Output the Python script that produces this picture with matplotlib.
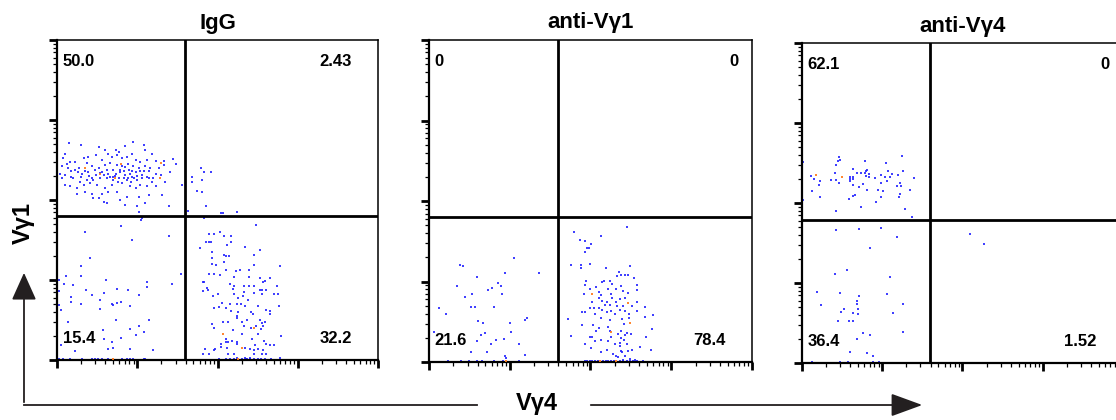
import numpy as np
import matplotlib
matplotlib.use("Agg")
import matplotlib.pyplot as plt
from matplotlib.lines import Line2D
from matplotlib.patches import FancyArrowPatch

plt.rcParams['font.family'] = ['Liberation Sans', 'DejaVu Sans']

# flow data, axes in decades (0-4), x = Vγ4, y = Vγ1
panel_titles = ["IgG", "anti-Vγ1", "anti-Vγ4"]
gates = [(1.59, 1.80), (1.60, 1.80), (1.59, 1.79)]
percents = [["50.0", "2.43", "15.4", "32.2"],
            ["0", "0", "21.6", "78.4"],
            ["62.1", "0", "36.4", "1.52"]]

igg_ul = [(0.15, 2.71), (0.30, 2.69), (0.52, 2.66), (0.95, 2.73), (1.08, 2.69), (0.85, 2.67),
          (0.73, 2.63), (0.60, 2.63), (0.64, 2.58), (0.77, 2.60), (1.10, 2.63), (1.18, 2.58),
          (0.93, 2.58), (0.10, 2.58), (0.08, 2.52), (0.16, 2.48), (0.23, 2.48), (0.33, 2.52),
          (0.39, 2.54), (0.48, 2.56), (0.56, 2.50), (0.68, 2.54), (0.75, 2.56), (0.81, 2.52),
          (0.87, 2.54), (0.98, 2.50), (1.04, 2.48), (1.12, 2.50), (1.23, 2.49), (1.33, 2.49),
          (1.44, 2.51), (0.06, 2.42), (0.14, 2.40), (0.27, 2.40), (0.37, 2.46), (0.43, 2.42),
          (0.52, 2.40), (0.60, 2.44), (0.66, 2.46), (0.75, 2.44), (0.81, 2.42), (0.89, 2.45),
          (0.95, 2.42), (1.02, 2.40), (1.10, 2.42), (1.16, 2.40), (1.27, 2.40), (1.33, 2.44),
          (1.48, 2.45), (0.04, 2.33), (0.10, 2.31), (0.18, 2.29), (0.31, 2.33), (0.39, 2.35),
          (0.48, 2.31), (0.56, 2.35), (0.64, 2.33), (0.73, 2.33), (0.79, 2.35), (0.85, 2.31),
          (0.91, 2.33), (0.98, 2.35), (1.06, 2.31), (1.12, 2.29), (1.23, 2.33), (1.29, 2.31),
          (1.41, 2.35), (0.06, 2.27), (0.20, 2.27), (0.29, 2.23), (0.37, 2.25), (0.45, 2.25),
          (0.54, 2.27), (0.62, 2.27), (0.70, 2.29), (0.77, 2.27), (0.83, 2.27), (0.87, 2.25),
          (0.93, 2.29), (1.00, 2.25), (1.06, 2.27), (1.14, 2.27), (1.18, 2.23), (1.35, 2.23),
          (1.56, 2.19), (0.10, 2.19), (0.16, 2.17), (0.25, 2.15), (0.33, 2.19), (0.41, 2.21),
          (0.50, 2.19), (0.60, 2.15), (0.68, 2.19), (0.81, 2.21), (0.91, 2.17), (0.98, 2.15),
          (1.04, 2.19), (1.12, 2.17), (1.23, 2.17), (1.31, 2.06), (0.25, 2.08), (0.35, 2.10),
          (0.43, 2.08), (0.56, 2.08), (0.64, 2.10), (0.75, 2.10), (0.87, 2.04), (1.02, 2.04),
          (1.14, 2.06), (0.45, 2.02), (0.52, 2.02), (0.58, 1.98), (0.79, 2.00), (0.85, 1.94),
          (1.00, 1.92), (1.10, 1.96), (1.39, 1.93), (0.62, 1.96), (1.02, 1.85),
          (0.70, 2.38), (0.72, 2.30), (0.78, 2.38), (0.83, 2.36), (0.88, 2.28), (0.90, 2.38),
          (0.94, 2.36), (0.96, 2.27), (1.00, 2.30), (1.03, 2.36), (0.66, 2.29), (0.62, 2.37),
          (0.58, 2.31), (0.53, 2.34), (0.47, 2.37), (0.44, 2.28), (0.40, 2.30), (0.35, 2.36),
          (0.30, 2.29), (0.26, 2.35), (0.22, 2.38), (0.85, 2.41), (0.92, 2.22), (0.76, 2.23),
          (0.70, 2.25), (1.08, 2.36), (1.15, 2.36), (1.20, 2.28), (0.12, 2.45), (0.18, 2.36)]
igg_ur = [(1.68, 2.29), (1.68, 2.22), (1.79, 2.40), (1.83, 2.35), (1.92, 2.35), (1.81, 2.25),
          (1.74, 2.11), (1.81, 2.10), (1.86, 1.92), (1.63, 1.86), (2.04, 1.84), (2.07, 1.84),
          (2.24, 1.85)]
igg_ll = [(1.05, 1.75), (0.80, 1.67), (0.35, 1.60), (0.93, 1.50), (1.40, 1.55), (0.41, 1.27),
          (0.30, 1.17), (0.11, 1.05), (0.30, 1.05), (0.03, 1.00), (0.09, 0.95), (0.20, 0.94),
          (0.61, 1.00), (1.54, 1.08), (1.43, 0.95), (1.12, 0.97), (1.12, 0.91), (0.03, 0.86),
          (0.36, 0.88), (0.43, 0.81), (0.58, 0.84), (0.75, 0.89), (0.89, 0.88), (1.02, 0.81),
          (0.18, 0.79), (0.18, 0.73), (0.53, 0.75), (0.03, 0.69), (0.30, 0.70), (0.68, 0.70),
          (0.70, 0.69), (0.75, 0.71), (0.80, 0.73), (0.91, 0.67), (0.05, 0.63), (0.53, 0.64),
          (0.14, 0.48), (0.74, 0.50), (1.15, 0.50), (1.02, 0.43), (0.91, 0.39), (0.57, 0.38),
          (1.08, 0.35), (0.99, 0.31), (0.80, 0.28), (0.59, 0.26), (0.69, 0.23), (0.05, 0.19),
          (0.70, 0.15), (0.63, 0.14), (0.91, 0.14), (1.20, 0.12), (0.23, 0.11), (1.06, 1.77),
          (0.03, 0.01), (0.07, 0.01), (0.16, 0.01), (0.31, 0.01), (0.43, 0.01), (0.47, 0.01),
          (0.51, 0.01), (0.56, 0.01), (0.63, 0.01), (0.81, 0.01), (0.87, 0.01), (0.91, 0.01),
          (0.95, 0.01), (1.08, 0.01), (1.10, 0.01)]
igg_lr = [(1.83, 1.77), (2.48, 1.69), (2.03, 1.60), (1.90, 1.58), (1.96, 1.58), (2.08, 1.55),
          (2.17, 1.55), (1.86, 1.47), (1.89, 1.47), (1.92, 1.47), (1.78, 1.40), (2.12, 1.44),
          (2.17, 1.47), (2.34, 1.41), (2.53, 1.38), (1.93, 1.35), (2.08, 1.31), (2.10, 1.30),
          (2.14, 1.30), (1.93, 1.27), (2.45, 1.31), (2.08, 1.22), (1.98, 1.19), (1.93, 1.20),
          (2.46, 1.19), (2.78, 1.17), (2.10, 1.13), (2.23, 1.11), (2.28, 1.13), (2.39, 1.13),
          (1.90, 1.08), (1.96, 1.07), (2.03, 1.06), (2.21, 1.04), (2.39, 1.04), (2.53, 1.03),
          (2.65, 1.03), (1.82, 0.98), (1.83, 0.97), (2.59, 0.99), (2.57, 0.97), (2.16, 0.95),
          (2.21, 0.92), (2.33, 0.93), (2.39, 0.92), (2.46, 0.93), (2.53, 0.88), (2.55, 0.88),
          (2.60, 0.88), (2.74, 0.92), (1.87, 0.90), (1.82, 0.86), (1.88, 0.87), (2.00, 0.83),
          (1.95, 0.80), (2.19, 0.89), (2.33, 0.85), (2.45, 0.84), (2.56, 0.82), (2.70, 0.83),
          (2.75, 0.83), (2.21, 0.82), (2.32, 0.80), (2.26, 0.78), (2.38, 0.75), (2.16, 0.70),
          (2.24, 0.70), (2.29, 0.70), (2.05, 0.71), (2.34, 0.68), (2.51, 0.67), (1.96, 0.65),
          (2.02, 0.66), (2.10, 0.65), (2.17, 0.61), (2.25, 0.60), (2.42, 0.60), (2.44, 0.58),
          (2.61, 0.63), (2.65, 0.61), (2.65, 0.58), (2.77, 0.67), (2.24, 0.55), (2.24, 0.53),
          (2.07, 0.48), (2.13, 0.48), (2.31, 0.48), (2.37, 0.50), (2.53, 0.50), (2.56, 0.46),
          (2.59, 0.48), (1.93, 0.45), (2.33, 0.42), (2.42, 0.40), (2.48, 0.42), (2.57, 0.43),
          (1.96, 0.40), (2.19, 0.38), (2.54, 0.39), (2.30, 0.33), (2.79, 0.30), (2.51, 0.33),
          (2.11, 0.26), (2.43, 0.26), (2.58, 0.24), (2.18, 0.24), (2.10, 0.22), (2.13, 0.22),
          (2.24, 0.22), (2.24, 0.20), (2.04, 0.20), (2.61, 0.20), (2.66, 0.19), (2.71, 0.19),
          (2.47, 0.19), (2.34, 0.15), (2.12, 0.15), (2.04, 0.16), (1.97, 0.14), (1.96, 0.13),
          (1.85, 0.14), (2.40, 0.14), (2.46, 0.13), (2.51, 0.14), (2.57, 0.13), (1.82, 0.08),
          (1.89, 0.07), (2.13, 0.08), (2.20, 0.07), (2.24, 0.03), (2.34, 0.03), (2.41, 0.03),
          (2.46, 0.08), (2.56, 0.08), (2.60, 0.07), (2.78, 0.03),
          (2.02, 0.01), (2.11, 0.01), (2.15, 0.01), (2.20, 0.01), (2.30, 0.01), (2.35, 0.01),
          (2.37, 0.01), (2.41, 0.01), (2.45, 0.01), (2.50, 0.01), (2.54, 0.01), (2.59, 0.01),
          (2.67, 0.01)]
igg_hi = [(0.35, 2.40), (0.53, 2.32), (0.80, 2.45), (1.30, 2.46), (1.28, 2.28), (0.72, 2.28),
          (2.07, 0.33), (2.30, 0.15), (2.25, 0.01), (2.46, 0.40), (0.70, 0.01)]

v1_ll = [(1.05, 1.29), (0.39, 1.20), (0.42, 1.19), (0.60, 1.06), (0.94, 1.10), (1.36, 1.10),
         (0.35, 0.95), (0.86, 0.98), (0.89, 0.95), (0.78, 0.92), (0.73, 0.89), (0.53, 0.84),
         (0.44, 0.81), (0.91, 0.85), (0.13, 0.67), (0.21, 0.60), (0.52, 0.68), (0.57, 0.68),
         (0.81, 0.68), (0.61, 0.51), (0.67, 0.49), (1.21, 0.55), (1.19, 0.52), (1.00, 0.48),
         (0.64, 0.34), (0.69, 0.36), (1.01, 0.37), (0.06, 0.37), (0.60, 0.26), (0.77, 0.22),
         (0.83, 0.27), (0.93, 0.29), (1.11, 0.22), (0.52, 0.12), (0.72, 0.13), (0.94, 0.07),
         (0.95, 0.05), (1.19, 0.09),
         (0.24, 0.01), (0.40, 0.01), (0.49, 0.01), (0.59, 0.01), (0.66, 0.01), (0.81, 0.01),
         (0.92, 0.01), (1.12, 0.01)]
v1_lr = [(2.45, 1.68), (1.79, 1.62), (2.13, 1.57), (1.87, 1.52), (1.93, 1.50), (2.01, 1.47),
         (1.98, 1.42), (1.96, 1.42), (1.93, 1.37), (1.76, 1.20), (1.88, 1.20), (1.88, 1.17),
         (2.00, 1.22), (2.19, 1.17), (2.49, 1.19), (2.35, 1.12), (2.33, 1.07), (2.38, 1.08),
         (2.43, 1.08), (2.47, 1.08), (2.54, 1.04), (2.17, 1.01), (2.24, 1.01), (1.95, 1.01),
         (2.58, 0.96), (2.14, 0.99), (2.27, 0.97), (2.38, 0.94), (1.93, 0.96), (2.07, 0.93),
         (2.00, 0.91), (2.22, 0.91), (2.32, 0.91), (2.46, 0.86), (2.58, 0.89), (1.92, 0.85),
         (2.10, 0.87), (2.13, 0.83), (2.25, 0.85), (2.40, 0.88), (2.10, 0.80), (2.27, 0.80),
         (2.36, 0.78), (2.43, 0.80), (2.02, 0.75), (2.14, 0.76), (2.21, 0.75), (2.31, 0.75),
         (2.58, 0.75), (2.18, 0.71), (2.24, 0.71), (2.33, 0.69), (2.40, 0.70), (2.52, 0.70),
         (2.67, 0.68), (2.00, 0.67), (2.04, 0.67), (2.10, 0.67), (2.14, 0.65), (2.26, 0.64),
         (2.36, 0.65), (2.43, 0.63), (2.58, 0.63), (1.90, 0.62), (1.93, 0.62), (2.05, 0.60),
         (2.21, 0.62), (2.30, 0.60), (2.48, 0.60), (2.77, 0.59), (2.13, 0.55), (2.24, 0.52),
         (2.39, 0.53), (2.48, 0.55), (2.68, 0.56), (1.72, 0.54), (1.90, 0.46), (2.03, 0.46),
         (2.22, 0.44), (2.24, 0.39), (2.42, 0.47), (2.10, 0.42), (2.07, 0.39), (2.34, 0.35),
         (2.38, 0.38), (2.45, 0.36), (2.76, 0.41), (1.99, 0.31), (2.02, 0.31), (2.26, 0.31),
         (2.38, 0.30), (2.43, 0.33), (2.50, 0.35), (2.69, 0.31), (1.76, 0.32), (2.05, 0.26),
         (2.13, 0.27), (2.22, 0.26), (2.36, 0.24), (2.41, 0.27), (1.93, 0.22), (2.30, 0.22),
         (2.36, 0.20), (2.45, 0.22), (2.61, 0.19), (2.01, 0.17), (2.13, 0.13), (2.21, 0.15),
         (2.38, 0.14), (2.39, 0.12), (2.46, 0.14), (2.52, 0.15), (2.75, 0.15), (2.28, 0.10),
         (2.32, 0.08), (2.34, 0.06), (2.43, 0.07), (2.49, 0.04), (2.55, 0.02), (2.40, 0.02),
         (1.93, 0.01), (1.96, 0.01), (2.00, 0.01), (2.02, 0.01), (2.05, 0.01), (2.09, 0.01),
         (2.16, 0.01), (2.19, 0.01), (2.22, 0.01), (2.25, 0.01), (2.29, 0.01), (2.36, 0.01),
         (2.40, 0.01), (2.45, 0.01), (2.49, 0.01), (2.53, 0.01), (2.58, 0.01), (2.65, 0.01)]
v1_hi = [(2.49, 0.48), (2.25, 0.37), (2.12, 0.01), (2.32, 0.01), (0.95, 0.01), (2.02, 0.85),
         (2.47, 0.73)]

v4_ul = [(0.01, 2.51), (0.46, 2.58), (0.48, 2.54), (0.45, 2.53), (0.43, 2.48), (0.78, 2.53),
         (1.25, 2.59), (1.05, 2.50), (0.11, 2.34), (0.15, 2.30), (0.23, 2.27), (0.21, 2.23),
         (0.13, 2.15), (0.23, 2.07), (0.01, 2.04), (0.36, 2.29), (0.41, 2.38), (0.43, 2.29),
         (0.46, 2.25), (0.60, 2.33), (0.60, 2.30), (0.63, 2.43), (0.63, 2.33), (0.63, 2.30),
         (0.60, 2.27), (0.68, 2.38), (0.73, 2.38), (0.78, 2.37), (0.80, 2.40), (0.81, 2.41),
         (0.83, 2.36), (0.84, 2.33), (0.80, 2.34), (0.64, 2.23), (0.76, 2.24), (0.71, 2.20),
         (0.66, 2.10), (0.63, 2.09), (0.59, 2.05), (0.81, 2.16), (0.91, 2.31), (0.98, 2.35),
         (0.98, 2.25), (0.95, 2.16), (1.01, 2.15), (0.98, 2.07), (0.92, 2.01), (1.04, 2.32),
         (1.07, 2.40), (1.10, 2.32), (1.12, 2.36), (1.06, 2.28), (1.20, 2.35), (1.26, 2.40),
         (1.22, 2.25), (1.19, 2.21), (1.23, 2.21), (1.22, 2.11), (1.21, 2.07), (1.35, 2.16),
         (1.40, 2.31), (1.28, 1.93), (0.74, 1.95), (0.43, 1.90), (1.37, 1.82)]
v4_ll = [(0.43, 1.66), (0.71, 1.68), (0.98, 1.69), (1.18, 1.57), (0.85, 1.44), (0.41, 1.11),
         (0.56, 1.16), (1.10, 1.07), (0.19, 0.89), (0.48, 0.87), (0.71, 0.84), (1.06, 0.86),
         (0.68, 0.77), (0.69, 0.74), (1.26, 0.74), (0.24, 0.72), (0.52, 0.67), (0.70, 0.67),
         (0.49, 0.64), (0.64, 0.63), (0.70, 0.61), (1.13, 0.63), (0.45, 0.52), (0.59, 0.52),
         (0.63, 0.53), (1.26, 0.39), (0.76, 0.38), (0.85, 0.35), (0.68, 0.30), (0.60, 0.14),
         (0.81, 0.13), (0.88, 0.09),
         (0.13, 0.01), (0.48, 0.01), (0.57, 0.01), (0.88, 0.01), (0.96, 0.01)]
v4_lr = [(2.09, 1.61), (2.27, 1.49)]
v4_hi = [(0.18, 2.35), (0.50, 2.32)]

blue_sets = [igg_ul + igg_ur + igg_ll + igg_lr, v1_ll + v1_lr, v4_ul + v4_ll + v4_lr]
hot_sets = [igg_hi, v1_hi, v4_hi]

fig = plt.figure(figsize=(11.16, 4.2), dpi=100)
rects = [[0.0511, 0.1429, 0.2876, 0.7619],
         [0.3844, 0.1380, 0.2894, 0.7667],
         [0.7186, 0.1357, 0.2876, 0.7619]]
ur_x = [0.919, 0.957, 0.957]

minor = [d + np.log10(k) for d in range(4) for k in range(2, 10)]

for i in range(3):
    ax = fig.add_axes(rects[i])
    pts = np.array(blue_sets[i])
    ax.scatter(pts[:, 0], pts[:, 1], s=4, marker='s', color='#2020ff',
               alpha=0.85, linewidths=0, zorder=2)
    hot = np.array(hot_sets[i])
    ax.scatter(hot[:, 0], hot[:, 1], s=4, marker='s', color='#ff7a1a',
               alpha=0.9, linewidths=0, zorder=3)
    gx, gy = gates[i]
    ax.axvline(gx, color='black', lw=2.0, zorder=4)
    ax.axhline(gy, color='black', lw=2.0, zorder=4)
    ax.set_xlim(0, 4)
    ax.set_ylim(0, 4)
    ax.set_xticks(range(5))
    ax.set_yticks(range(5))
    ax.set_xticks(minor, minor=True)
    ax.set_yticks(minor, minor=True)
    ax.set_xticklabels([])
    ax.set_yticklabels([])
    ax.tick_params(which='major', direction='out', length=6, width=2.0)
    ax.tick_params(which='minor', direction='out', length=3.2, width=0.9)
    for side in ['left', 'bottom']:
        ax.spines[side].set_linewidth(1.6)
    for side in ['top', 'right']:
        ax.spines[side].set_linewidth(1.1)

    p = percents[i]
    kw = dict(transform=ax.transAxes, fontsize=12, fontweight='bold', va='center')
    ax.text(0.018, 0.934, p[0], ha='left', **kw)
    ax.text(ur_x[i], 0.934, p[1], ha='right', **kw)
    ax.text(0.018, 0.068, p[2], ha='left', **kw)
    ax.text(0.918, 0.068, p[3], ha='right', **kw)
    ax.text(0.5, 1.053, panel_titles[i], transform=ax.transAxes, ha='center',
            va='center', fontsize=16, fontweight='bold')

# axis labels with arrows
fig.text(0.0206, 0.469, "Vγ1", rotation=90, ha='center', va='center',
         fontsize=17, fontweight='bold')
fig.text(0.481, 0.040, "Vγ4", ha='center', va='center', fontsize=17, fontweight='bold')

fig.add_artist(Line2D([0.0215, 0.4274], [0.0357, 0.0357], transform=fig.transFigure,
                      color='#231f20', lw=1.3))
fig.add_artist(FancyArrowPatch((0.0215, 0.0357), (0.0215, 0.357), transform=fig.transFigure,
                               arrowstyle='-|>,head_length=1.0,head_width=0.45',
                               mutation_scale=17, color='#231f20', lw=1.3))
fig.add_artist(FancyArrowPatch((0.5269, 0.0357), (0.8289, 0.0357), transform=fig.transFigure,
                               arrowstyle='-|>,head_length=1.15,head_width=0.42',
                               mutation_scale=17, color='#231f20', lw=1.3))

fig.savefig("out.png", dpi=100)
